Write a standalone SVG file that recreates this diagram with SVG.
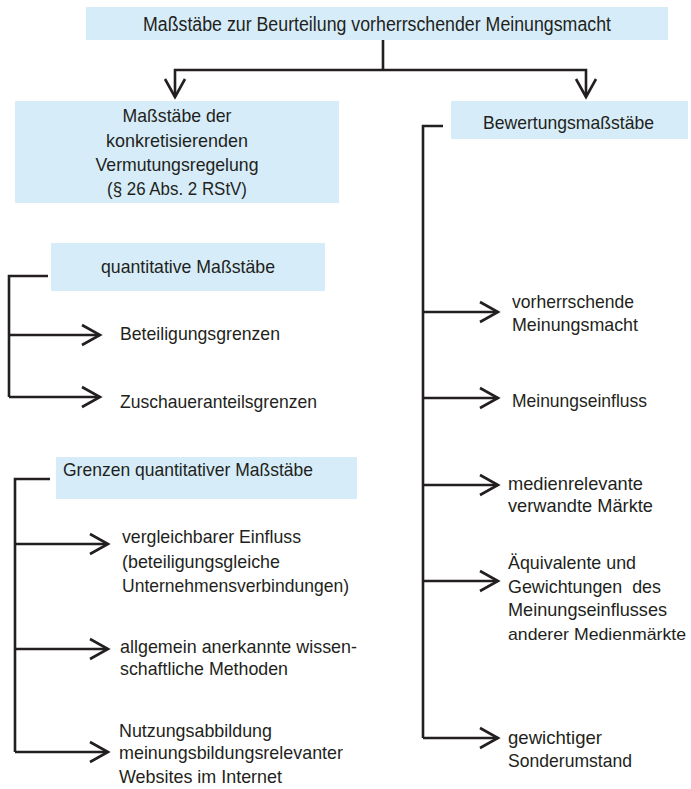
<svg xmlns="http://www.w3.org/2000/svg" width="691" height="789" viewBox="0 0 691 789">
<defs>
<style>
.box{fill:#d6edf9;}
text{font-family:"Liberation Sans",Arial,sans-serif;font-size:19px;fill:#231f20;}
.t{font-size:20px;}
.c{text-anchor:middle;}
.ln{fill:none;stroke:#231f20;stroke-width:2.6;stroke-linejoin:miter;}
.ar{marker-end:url(#arr);}
</style>
<marker id="arr" viewBox="-2 -2 24 24" refX="18" refY="10" markerWidth="24" markerHeight="24" orient="auto" markerUnits="userSpaceOnUse" overflow="visible">
<path d="M0,0 L18,10 L0,20" fill="none" stroke="#231f20" stroke-width="2.6"/>
</marker>
</defs>
<rect width="691" height="789" fill="#ffffff"/>

<g id="connectors">
<path class="ln" d="M383,40 V70"/>
<path class="ln ar" d="M383,70 H175 V97"/>
<path class="ln ar" d="M383,70 H586 V97"/>
<path class="ln" d="M48,276 H9 V397"/>
<path class="ln ar" d="M9,335 H100"/>
<path class="ln ar" d="M9,397 H100"/>
<path class="ln" d="M50,479 H15 V752"/>
<path class="ln ar" d="M15,544 H108"/>
<path class="ln ar" d="M15,649 H108"/>
<path class="ln ar" d="M15,752 H108"/>
<path class="ln" d="M443,126 H423 V738"/>
<path class="ln ar" d="M423,312 H498"/>
<path class="ln ar" d="M423,398 H498"/>
<path class="ln ar" d="M423,485 H498"/>
<path class="ln ar" d="M423,581 H498"/>
<path class="ln ar" d="M423,738 H498"/>
</g>

<g id="title">
<rect class="box" x="86" y="7" width="582" height="33"/>
<text class="t c" x="377" y="30.5" textLength="468" lengthAdjust="spacingAndGlyphs">Maßstäbe zur Beurteilung vorherrschender Meinungsmacht</text>
</g>

<g id="konkret">
<rect class="box" x="15" y="101" width="324" height="102"/>
<text class="c" x="177" y="122" textLength="109" lengthAdjust="spacingAndGlyphs">Maßstäbe der</text>
<text class="c" x="177" y="147" textLength="142" lengthAdjust="spacingAndGlyphs">konkretisierenden</text>
<text class="c" x="177" y="171" textLength="163" lengthAdjust="spacingAndGlyphs">Vermutungsregelung</text>
<text class="c" x="177" y="195" textLength="140" lengthAdjust="spacingAndGlyphs">(§ 26 Abs. 2 RStV)</text>
</g>

<g id="bewertung">
<rect class="box" x="451" y="101" width="237" height="38"/>
<text x="483" y="129" textLength="171" lengthAdjust="spacingAndGlyphs">Bewertungsmaßstäbe</text>
</g>

<g id="quantitativ">
<rect class="box" x="51" y="243" width="274" height="48"/>
<text x="101" y="273" textLength="174" lengthAdjust="spacingAndGlyphs">quantitative Maßstäbe</text>
</g>

<g id="beteiligung">
<text x="120" y="340" textLength="160" lengthAdjust="spacingAndGlyphs">Beteiligungsgrenzen</text>
</g>

<g id="zuschauer">
<text x="120" y="408" textLength="197" lengthAdjust="spacingAndGlyphs">Zuschaueranteilsgrenzen</text>
</g>

<g id="grenzen">
<rect class="box" x="56" y="457" width="301" height="42"/>
<text x="63" y="476" textLength="250" lengthAdjust="spacingAndGlyphs">Grenzen quantitativer Maßstäbe</text>
</g>

<g id="vergleichbar">
<text x="122" y="543" textLength="179" lengthAdjust="spacingAndGlyphs">vergleichbarer Einfluss</text>
<text x="122" y="568" textLength="158" lengthAdjust="spacingAndGlyphs">(beteiligungsgleiche</text>
<text x="122" y="592" textLength="227" lengthAdjust="spacingAndGlyphs">Unternehmensverbindungen)</text>
</g>

<g id="methoden">
<text x="120" y="653" textLength="237" lengthAdjust="spacingAndGlyphs">allgemein anerkannte wissen-</text>
<text x="120" y="675" textLength="168" lengthAdjust="spacingAndGlyphs">schaftliche Methoden</text>
</g>

<g id="nutzung">
<text x="119" y="737" textLength="153" lengthAdjust="spacingAndGlyphs">Nutzungsabbildung</text>
<text x="119" y="759" textLength="224" lengthAdjust="spacingAndGlyphs">meinungsbildungsrelevanter</text>
<text x="119" y="783" textLength="163" lengthAdjust="spacingAndGlyphs">Websites im Internet</text>
</g>

<g id="vorherrschend">
<text x="512" y="308" textLength="122" lengthAdjust="spacingAndGlyphs">vorherrschende</text>
<text x="512" y="331" textLength="126" lengthAdjust="spacingAndGlyphs">Meinungsmacht</text>
</g>

<g id="einfluss">
<text x="512" y="407" textLength="135" lengthAdjust="spacingAndGlyphs">Meinungseinfluss</text>
</g>

<g id="medien">
<text x="508" y="490" textLength="135" lengthAdjust="spacingAndGlyphs">medienrelevante</text>
<text x="508" y="512" textLength="145" lengthAdjust="spacingAndGlyphs">verwandte Märkte</text>
</g>

<g id="aequivalente">
<text x="508" y="569" textLength="128" lengthAdjust="spacingAndGlyphs">Äquivalente und</text>
<text x="508" y="593" textLength="153" lengthAdjust="spacingAndGlyphs" xml:space="preserve">Gewichtungen  des</text>
<text x="508" y="616" textLength="159" lengthAdjust="spacingAndGlyphs">Meinungseinflusses</text>
<text x="508" y="640" style="font-size:17px" textLength="178" lengthAdjust="spacingAndGlyphs">anderer Medienmärkte</text>
</g>

<g id="sonderumstand">
<text x="508" y="744" textLength="94" lengthAdjust="spacingAndGlyphs">gewichtiger</text>
<text x="508" y="767" textLength="124" lengthAdjust="spacingAndGlyphs">Sonderumstand</text>
</g>
</svg>
